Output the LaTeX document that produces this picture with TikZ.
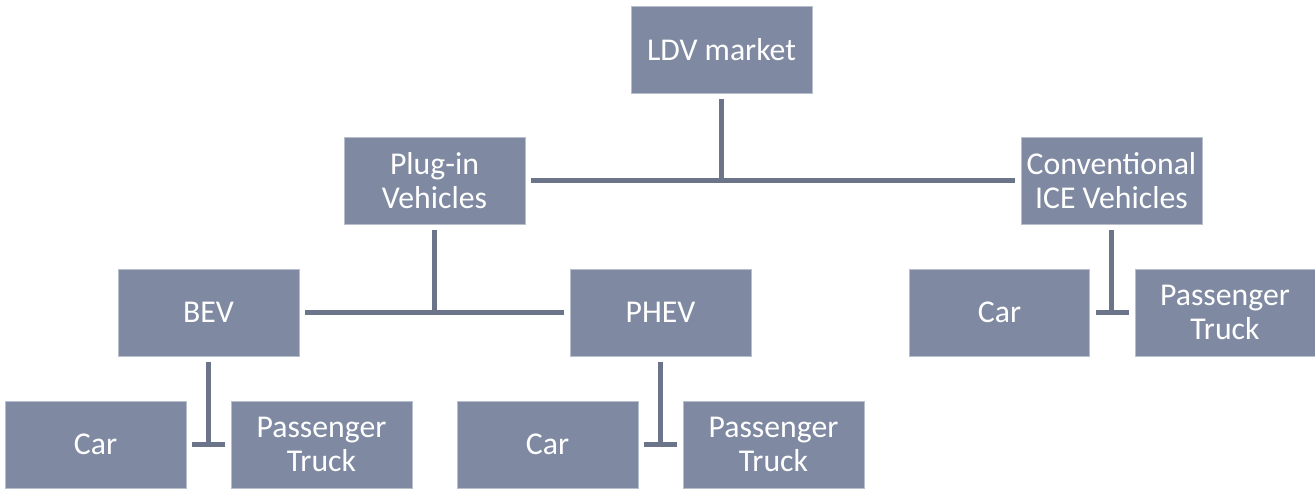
\documentclass[tikz,border=0pt]{standalone}
\usepackage{fontspec}
\setmainfont{Carlito}
\definecolor{boxfill}{HTML}{7F8AA2}
\definecolor{boxline}{HTML}{B7BECC}
\definecolor{connline}{HTML}{6B7488}
\begin{document}
\begin{tikzpicture}[x=0.75pt,y=-0.75pt,
  box/.style={fill=boxfill,draw=boxline,line width=0.6pt,minimum width=135.75pt,minimum height=65.25pt,
    inner sep=0pt,text=white,align=center,font=\fontsize{23.8}{25.8}\selectfont},
  conn/.style={draw=connline,line width=3.75pt},
  gap/.style={shorten <=4.5pt}]
\useasboundingbox (0,0) rectangle (1315,492);
\node[box] (LDV) at (721.5,49.5) {LDV market};
\node[box] (Plug) at (434.5,180.5) {Plug-in\\Vehicles};
\node[box] (Conv) at (1111.5,180.5) {Conventional\\ICE Vehicles};
\node[box] (BEV) at (208.5,312.5) {BEV};
\node[box] (PHEV) at (660.5,312.5) {PHEV};
\node[box,minimum width=135pt] (CarI) at (999.5,312.5) {Car};
\node[box,minimum width=135pt] (PTI) at (1225,312.5) {Passenger\\Truck};
\node[box] (CarB) at (95.5,444.5) {Car};
\node[box] (PTB) at (321.5,444.5) {Passenger\\Truck};
\node[box] (CarP) at (547.5,444.5) {Car};
\node[box] (PTP) at (773.5,444.5) {Passenger\\Truck};
% level 1
\draw[conn,gap] (LDV.south) -- (LDV.south |- Plug.east);
\draw[conn,gap,shorten >=4.5pt] (Plug.east) -- (Conv.west);
% level 2 plug-in
\draw[conn,gap] (Plug.south) -- (Plug.south |- BEV.east);
\draw[conn,gap,shorten >=4.5pt] (BEV.east) -- (PHEV.west);
% ICE
\draw[conn,gap] (Conv.south) -- (Conv.south |- CarI.east);
\draw[conn,gap,shorten >=4.5pt] (CarI.east) -- (PTI.west);
% BEV
\draw[conn,gap] (BEV.south) -- (BEV.south |- CarB.east);
\draw[conn,gap,shorten >=4.5pt] (CarB.east) -- (PTB.west);
% PHEV
\draw[conn,gap] (PHEV.south) -- (PHEV.south |- CarP.east);
\draw[conn,gap,shorten >=4.5pt] (CarP.east) -- (PTP.west);
\end{tikzpicture}
\end{document}
